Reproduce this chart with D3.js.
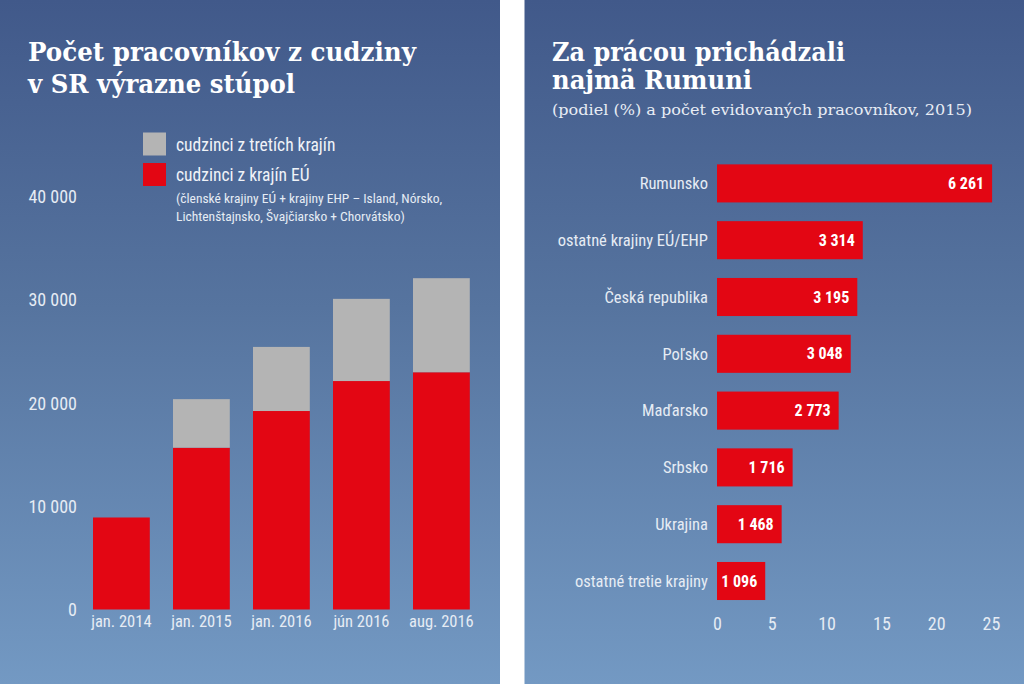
<!DOCTYPE html>
<html><head><meta charset="utf-8">
<script src="https://cdn.jsdelivr.net/npm/d3@7"></script>
<style>
html,body{margin:0;padding:0;background:#fff;}
svg{display:block;}
.cond{font-family:"Liberation Sans Narrow","Roboto Condensed","Arial Narrow","DejaVu Sans Condensed",sans-serif;}
.slab{font-family:"DejaVu Serif",serif;}
</style></head>
<body>
<svg id="c" width="1024" height="684"></svg>
<script>
// ---- Data: left chart ----
const periods = ["jan. 2014","jan. 2015","jan. 2016","jún 2016","aug. 2016"];
const euWorkers = [8900, 15650, 19200, 22100, 22950];
const thirdWorkers = [0, 4700, 6200, 7950, 9100];
const leftTicks = [0, 10000, 20000, 30000, 40000];
const seriesNames = ["cudzinci z tretích krajín", "cudzinci z krajín EÚ"];

// ---- Data: right chart ----
const countries = ["Rumunsko","ostatné krajiny EÚ/EHP","Česká republika","Poľsko","Maďarsko","Srbsko","Ukrajina","ostatné tretie krajiny"];
const sharePct = [25.1, 13.3, 12.8, 12.2, 11.1, 6.9, 5.9, 4.4];
const counts = [6261, 3314, 3195, 3048, 2773, 1716, 1468, 1096];
const rightTicks = [0, 5, 10, 15, 20, 25];

const RED = "#e30613", GREY = "#b4b4b4", TXT = "#e6ecf4";
const loc = d3.formatLocale({decimal:",", thousands:" ", grouping:[3], currency:["",""]});
const fmt = loc.format(",d");

const svg = d3.select("#c");
const defs = svg.append("defs");
const grad = defs.append("linearGradient").attr("id","bg").attr("x1",0).attr("y1",0).attr("x2",0).attr("y2",1);
grad.append("stop").attr("offset","0%").attr("stop-color","#41598a");
grad.append("stop").attr("offset","45%").attr("stop-color","#56749f");
grad.append("stop").attr("offset","100%").attr("stop-color","#7399c3");

svg.append("rect").attr("x",0).attr("y",0).attr("width",500).attr("height",684).attr("fill","url(#bg)");
svg.append("rect").attr("x",524.5).attr("y",0).attr("width",499.5).attr("height",684).attr("fill","url(#bg)");

// ---------- LEFT ----------
const L = svg.append("g");
L.append("text").attr("class","slab").attr("x",28).attr("y",61).attr("fill","#fff")
  .attr("font-size",26).attr("font-weight","bold").attr("textLength",388).attr("lengthAdjust","spacingAndGlyphs")
  .text("Počet pracovníkov z cudziny");
L.append("text").attr("class","slab").attr("x",28).attr("y",93).attr("fill","#fff")
  .attr("font-size",26).attr("font-weight","bold").attr("textLength",267).attr("lengthAdjust","spacingAndGlyphs")
  .text("v SR výrazne stúpol");

// legend
const legColors = [GREY, RED];
legColors.forEach((c,i)=>{
  L.append("rect").attr("x",143).attr("y",132.5+i*30.5).attr("width",23).attr("height",23).attr("fill",c);
  L.append("text").attr("class","cond").attr("x",176).attr("y",150.5+i*30.5).attr("fill","#f0f3f8")
   .attr("font-size",17.5).text(seriesNames[i]);
});
L.append("text").attr("class","cond").attr("x",176).attr("y",203).attr("fill","#e6ecf4").attr("font-size",13.5)
  .text("(členské krajiny EÚ + krajiny EHP – Island, Nórsko,");
L.append("text").attr("class","cond").attr("x",176).attr("y",221).attr("fill","#e6ecf4").attr("font-size",13.5)
  .text("Lichtenštajnsko, Švajčiarsko + Chorvátsko)");

const xL = d3.scaleBand().domain(periods).range([81.4,481.4]).paddingInner(0.29).paddingOuter(0.145);
const yL = d3.scaleLinear().domain([0,40000]).range([609.5,196]);

const stackData = periods.map((p,i)=>({period:p, eu:euWorkers[i], third:thirdWorkers[i]}));
const stack = d3.stack().keys(["eu","third"])(stackData);
const colorOf = {eu:RED, third:GREY};
L.append("g").selectAll("g").data(stack).join("g").attr("fill",d=>colorOf[d.key])
  .selectAll("rect").data(d=>d).join("rect")
  .attr("x",d=>xL(d.data.period)).attr("width",xL.bandwidth())
  .attr("y",d=>yL(d[1])).attr("height",d=>Math.max(0,yL(d[0])-yL(d[1])));

const yAxisL = L.append("g").attr("transform","translate(77,0)")
  .call(d3.axisLeft(yL).tickValues(leftTicks).tickFormat(fmt).tickSize(0).tickPadding(0));
yAxisL.select(".domain").remove();
yAxisL.selectAll("text").attr("class","cond").attr("font-size",18).attr("fill",TXT).attr("dy","0.35em");

const xAxisL = L.append("g").attr("transform","translate(0,609.5)")
  .call(d3.axisBottom(xL).tickSize(0).tickPadding(6));
xAxisL.select(".domain").remove();
xAxisL.selectAll("text").attr("class","cond").attr("font-size",16.5).attr("fill",TXT);

// ---------- RIGHT ----------
const R = svg.append("g");
R.append("text").attr("class","slab").attr("x",552).attr("y",61).attr("fill","#fff")
  .attr("font-size",26).attr("font-weight","bold").attr("textLength",293).attr("lengthAdjust","spacingAndGlyphs")
  .text("Za prácou prichádzali");
R.append("text").attr("class","slab").attr("x",552).attr("y",89).attr("fill","#fff")
  .attr("font-size",26).attr("font-weight","bold").attr("textLength",200).attr("lengthAdjust","spacingAndGlyphs")
  .text("najmä Rumuni");
R.append("text").attr("class","slab").attr("x",552).attr("y",115).attr("fill","#e8edf5")
  .attr("font-size",15).attr("textLength",420).attr("lengthAdjust","spacingAndGlyphs")
  .text("(podiel (%) a počet evidovaných pracovníkov, 2015)");

const xR = d3.scaleLinear().domain([0,25]).range([717,991]);
const yR = d3.scaleBand().domain(countries).range([155,609.4]).paddingInner(0.33).paddingOuter(0.165);
const rdata = countries.map((c,i)=>({c, v:sharePct[i], n:counts[i]}));

R.append("g").selectAll("rect").data(rdata).join("rect")
  .attr("x",xR(0)).attr("y",d=>yR(d.c)).attr("height",yR.bandwidth())
  .attr("width",d=>xR(d.v)-xR(0)).attr("fill",RED);

R.append("g").selectAll("text").data(rdata).join("text").attr("class","cond")
  .attr("x",d=>xR(d.v)-8).attr("y",d=>yR(d.c)+yR.bandwidth()/2).attr("dy","0.35em")
  .attr("text-anchor","end").attr("font-size",16).attr("font-weight","bold").attr("fill","#fff")
  .text(d=>fmt(d.n));

const yAxisR = R.append("g").attr("transform","translate(708,0)")
  .call(d3.axisLeft(yR).tickSize(0).tickPadding(0));
yAxisR.select(".domain").remove();
yAxisR.selectAll("text").attr("class","cond").attr("font-size",16.5).attr("fill",TXT).attr("dy","0.35em");

const xAxisR = R.append("g").attr("transform","translate(0,609.4)")
  .call(d3.axisBottom(xR).tickValues(rightTicks).tickSize(0).tickPadding(8));
xAxisR.select(".domain").remove();
xAxisR.selectAll("text").attr("class","cond").attr("font-size",18).attr("fill",TXT);
</script>
</body></html>
